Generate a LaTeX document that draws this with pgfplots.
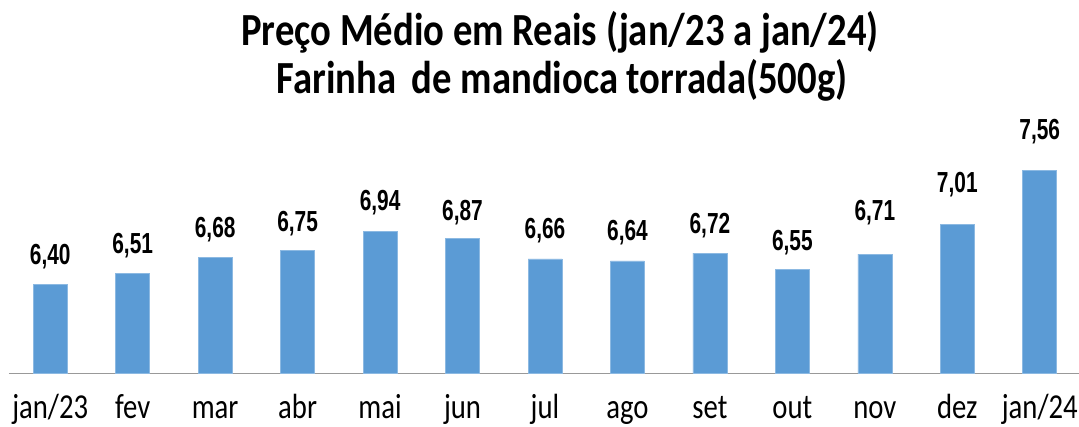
\documentclass[border=0pt]{standalone}
\usepackage{fontspec}
\setmainfont{Carlito}[FakeStretch=0.82]
\newfontfamily\titlefont{Carlito}[FakeStretch=0.84]
\newfontfamily\valfont{Liberation Sans}[FakeStretch=0.72]
\usepackage{pgfplots}
\pgfplotsset{compat=1.18}
\usepackage{pgfplotstable}
\definecolor{barblue}{HTML}{5B9BD5}
\pgfplotstableread{
x y lab off
0 6.40 6,40 20
1 6.51 6,51 20
2 6.68 6,68 20
3 6.75 6,75 19
4 6.94 6,94 21
5 6.87 6,87 18
6 6.66 6,66 20
7 6.64 6,64 20
8 6.72 6,72 20
9 6.55 6,55 19
10 6.71 6,71 34
11 7.01 7,01 32
12 7.56 7,56 31
}\data
\begin{document}
\begin{tikzpicture}[x=1pt,y=1pt]
\begin{axis}[
  at={(9pt,54pt)}, anchor=south west,
  scale only axis, width=1072pt, height=245.75pt,
  xmin=-0.5, xmax=12.5, ymin=5.5, ymax=8,
  axis y line=none,
  axis x line=bottom,
  x axis line style={-, draw=gray!80, line width=0.8pt},
  ytick=\empty,
  xtick={0,...,12},
  xticklabels={jan/23,fev,mar,abr,mai,jun,jul,ago,set,out,nov,dez,jan/24},
  major tick length=0pt,
  xticklabel style={anchor=base, yshift=-46pt, font=\fontsize{35}{35}\selectfont},
  clip=false,
]
\addplot[ybar, bar width=34pt, fill=barblue, draw=barblue!70!white, line width=0.6pt,
  point meta=explicit symbolic,
  visualization depends on={\thisrow{off} \as \off},
  nodes near coords,
  nodes near coords style={anchor=base, yshift=\off pt, font=\valfont\bfseries\fontsize{29}{29}\selectfont, text=black},
] table[x=x, y=y, meta=lab] {\data};
\end{axis}
\node[anchor=base, font=\titlefont\bfseries\fontsize{46}{46}\selectfont] at (560,381) {Preço Médio em Reais (jan/23 a jan/24)};
\node[anchor=base, font=\titlefont\bfseries\fontsize{46}{46}\selectfont] at (562,333) {Farinha\hspace{0.15em} de mandioca torrada(500g)};
\pgfresetboundingbox
\useasboundingbox (0,0) rectangle (1079,427);
\end{tikzpicture}
\end{document}
